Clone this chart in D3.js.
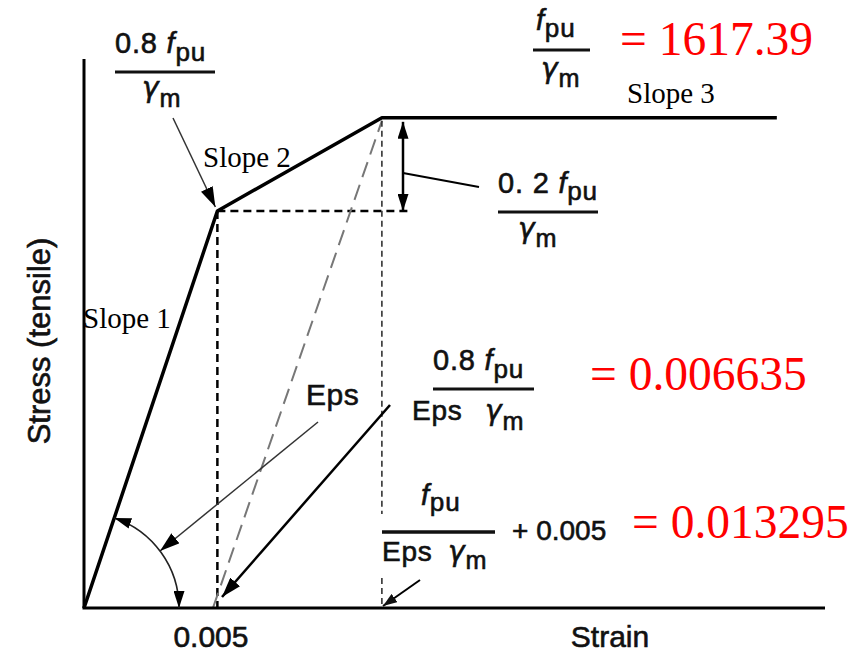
<!DOCTYPE html>
<html>
<head>
<meta charset="utf-8">
<title>Prestressing steel stress-strain</title>
<script src="https://d3js.org/d3.v7.min.js"></script>
<style>
  body { margin: 0; background: #fff; }
  .sans { font-family: "Liberation Sans", Arial, Helvetica, sans-serif; fill: #111; stroke: #111; stroke-width: 0.6px; }
  .greek { font-family: "DejaVu Sans", sans-serif; }
  .serif { font-family: "Liberation Serif", "Times New Roman", serif; }
</style>
</head>
<body>
<div id="chart"></div>
<script>
// schematic strain positions (not to scale) and stress in units of fpu/γm
const curveStrain = [0, 0.18, 0.402, 0.935];
const curveStress = [0, 0.81, 1, 1];
const offsetStrain = 0.174;      // where the "0.005" offset line starts
const axisStrainMax = 1.0;
const axisStressMax = 1.12;
const tickLabels = ["0.005"];
const slopeLabels = ["Slope 1", "Slope 2", "Slope 3"];
const valueLabels = ["= 1617.39", "= 0.006635", "= 0.013295"];

const w = 857, h = 655;

const svg = d3.select('#chart')
    .append('svg')
    .attr('width', w)
    .attr('height', h)

const x = d3.scaleLinear().domain([0, axisStrainMax]).range([84, 825])
const y = d3.scaleLinear().domain([0, axisStressMax]).range([608, 59])

const defs = svg.append('defs')
function arrowMarker(id, len, wid, color) {
    defs.append('marker')
        .attr('id', id)
        .attr('markerUnits', 'userSpaceOnUse')
        .attr('viewBox', '0 0 ' + len + ' ' + wid)
        .attr('refX', len)
        .attr('refY', wid / 2)
        .attr('markerWidth', len)
        .attr('markerHeight', wid)
        .attr('orient', 'auto-start-reverse')
        .append('path')
        .attr('d', 'M0,0 L' + len + ',' + (wid / 2) + ' L0,' + wid + ' Z')
        .attr('fill', color)
}
arrowMarker('arrBig', 20, 13, '#000')
arrowMarker('arrMid', 17, 11, '#000')
arrowMarker('arrSmall', 14, 10, '#111')

// guide lines
const knee = [curveStrain[1], curveStress[1]]
const corner = [curveStrain[2], curveStress[2]]

svg.append('line')   // horizontal dashed from knee
    .attr('x1', x(knee[0])).attr('y1', y(knee[1]))
    .attr('x2', 410).attr('y2', y(knee[1]))
    .attr('stroke', '#000').attr('stroke-width', 2.5)
    .attr('stroke-dasharray', '8,5')

svg.append('line')   // vertical dashed from knee
    .attr('x1', x(knee[0])).attr('y1', y(knee[1]))
    .attr('x2', x(knee[0])).attr('y2', y(0))
    .attr('stroke', '#000').attr('stroke-width', 2.5)
    .attr('stroke-dasharray', '8,5')

svg.append('line')   // offset line (gray long dash)
    .attr('x1', x(offsetStrain)).attr('y1', y(0))
    .attr('x2', x(corner[0])).attr('y2', y(corner[1]) + 3)
    .attr('stroke', '#777').attr('stroke-width', 2)
    .attr('stroke-dasharray', '16,8')

svg.append('line')   // thin dashed vertical at top corner
    .attr('x1', x(corner[0])).attr('y1', y(corner[1]) + 3)
    .attr('x2', x(corner[0])).attr('y2', 514)
    .attr('stroke', '#333').attr('stroke-width', 1.6)
    .attr('stroke-dasharray', '6,4')
svg.append('line')
    .attr('x1', x(corner[0])).attr('y1', 578)
    .attr('x2', x(corner[0])).attr('y2', y(0))
    .attr('stroke', '#333').attr('stroke-width', 1.6)
    .attr('stroke-dasharray', '6,4')

// axes
svg.append('line')
    .attr('x1', x(0)).attr('y1', y(0))
    .attr('x2', x(0)).attr('y2', y(axisStressMax))
    .attr('stroke', '#000').attr('stroke-width', 3)
svg.append('line')
    .attr('x1', x(0) - 1.5).attr('y1', y(0))
    .attr('x2', x(axisStrainMax)).attr('y2', y(0))
    .attr('stroke', '#000').attr('stroke-width', 3)

// the stress-strain curve
const curve = d3.line()
    .x((d, i) => x(curveStrain[i]))
    .y((d, i) => y(curveStress[i]))
svg.append('path')
    .attr('d', curve(curveStrain))
    .attr('fill', 'none')
    .attr('stroke', '#000')
    .attr('stroke-width', 3.5)
    .attr('stroke-linejoin', 'round')

// angle arc for Eps with arrows on both ends
const ox = x(0), oy = y(0), r = 95
const ang = Math.atan2(y(knee[1]) - oy, x(knee[0]) - ox)
svg.append('path')
    .attr('d', 'M' + (ox + r * Math.cos(ang)) + ',' + (oy + r * Math.sin(ang)) +
        ' A' + r + ',' + r + ' 0 0 1 ' + (ox + r) + ',' + oy)
    .attr('fill', 'none').attr('stroke', '#222').attr('stroke-width', 1.6)
    .attr('marker-start', 'url(#arrMid)')
    .attr('marker-end', 'url(#arrMid)')

// pointer arrows
function arrow(x1, y1, x2, y2, sw, color, marker) {
    svg.append('line')
        .attr('x1', x1).attr('y1', y1).attr('x2', x2).attr('y2', y2)
        .attr('stroke', color).attr('stroke-width', sw)
        .attr('marker-end', 'url(#' + marker + ')')
}
arrow(173, 118, x(knee[0]) - 2, y(knee[1]) - 4, 1.5, '#333', 'arrBig')
arrow(318, 422, 160, 551, 1.5, '#333', 'arrBig')
arrow(390, 405, 222, 597, 2.5, '#000', 'arrBig')
arrow(420, 580, 383, 606, 2, '#000', 'arrSmall')

// double arrow for 0.2 fpu/γm
svg.append('line')
    .attr('x1', 403).attr('y1', y(corner[1]) + 4)
    .attr('x2', 403).attr('y2', y(knee[1]))
    .attr('stroke', '#000').attr('stroke-width', 2.5)
    .attr('marker-start', 'url(#arrMid)')
    .attr('marker-end', 'url(#arrMid)')
svg.append('line')
    .attr('x1', 403).attr('y1', 173).attr('x2', 479).attr('y2', 187)
    .attr('stroke', '#000').attr('stroke-width', 2)

// fraction bars
function bar(x1, x2, yy, sw) {
    svg.append('line')
        .attr('x1', x1).attr('x2', x2).attr('y1', yy).attr('y2', yy)
        .attr('stroke', '#111').attr('stroke-width', sw || 3)
}

// parts = [text, style, dy, x]; style 'i' italic, 's' subscript, 'g' greek
function mtext(px, py, parts, size) {
    const t = svg.append('text')
        .attr('class', 'sans')
        .attr('x', px).attr('y', py)
        .attr('font-size', size)
        .attr('letter-spacing', 0.8)
    parts.forEach(p => {
        const s = t.append('tspan').text(p[0])
        if (p[1] === 'i') s.attr('font-style', 'italic')
        if (p[1] === 'g') s.attr('font-style', 'italic').attr('class', 'greek')
        if (p[1] === 's') s.attr('dy', p[2]).attr('font-size', size * 0.9)
        if (p[3] !== undefined) s.attr('x', p[3])
    })
    return t
}

// top-left 0.8 fpu / γm
mtext(115, 53, [['0.8 '], ['f', 'i'], ['pu', 's', 8]], 29)
bar(115, 215, 72)
mtext(142, 97, [['γ', 'g'], ['m', 's', 10]], 28)

// top-right fpu / γm
mtext(536, 30, [['f', 'i'], ['pu', 's', 7]], 29)
bar(533, 590, 50)
mtext(541, 78, [['γ', 'g'], ['m', 's', 9]], 28)

// 0.2 fpu / γm
mtext(498, 193, [['0. 2 '], ['f', 'i'], ['pu', 's', 7]], 29)
bar(498, 598, 212)
mtext(518, 238, [['γ', 'g'], ['m', 's', 9]], 28)

// 0.8 fpu / (Eps γm)
mtext(433, 370, [['0.8 '], ['f', 'i'], ['pu', 's', 8]], 29)
bar(433, 534, 389)
mtext(412, 420, [['Eps'], ['γ', 'g', 0, 485], ['m', 's', 10]], 28)

// fpu / (Eps γm) + 0.005
mtext(421, 505, [['f', 'i'], ['pu', 's', 6]], 29)
bar(382, 495, 532, 3.5)
mtext(382, 561, [['Eps'], ['γ', 'g', 0, 448], ['m', 's', 8]], 28)
svg.append('text').attr('class', 'sans')
    .attr('x', 512).attr('y', 540).attr('font-size', 28)
    .text('+ ' + tickLabels[0])

// Eps label
svg.append('text').attr('class', 'sans')
    .attr('x', 306).attr('y', 405).attr('font-size', 30)
    .attr('letter-spacing', 0.5)
    .text('Eps')

// slope labels (serif)
const slopePos = [[83, 328], [203, 167], [627, 103]]
svg.selectAll('.slope')
    .data(slopeLabels)
    .enter()
    .append('text')
    .attr('class', 'serif slope')
    .attr('x', (d, i) => slopePos[i][0])
    .attr('y', (d, i) => slopePos[i][1])
    .attr('font-size', 29)
    .attr('fill', '#000')
    .text(d => d)

// red values
const valuePos = [[620, 55], [590, 390], [632, 538]]
svg.selectAll('.val')
    .data(valueLabels)
    .enter()
    .append('text')
    .attr('class', 'serif val')
    .attr('x', (d, i) => valuePos[i][0])
    .attr('y', (d, i) => valuePos[i][1])
    .attr('font-size', 47.5)
    .attr('fill', '#ff0000')
    .text(d => d)

// axis labels
svg.append('text').attr('class', 'sans')
    .attr('x', x(offsetStrain) - 2).attr('y', 647)
    .attr('text-anchor', 'middle').attr('font-size', 30)
    .text(tickLabels[0])
svg.append('text').attr('class', 'sans')
    .attr('x', 610).attr('y', 647)
    .attr('text-anchor', 'middle').attr('font-size', 30)
    .text('Strain')
svg.append('text').attr('class', 'sans')
    .attr('transform', 'translate(50,341) rotate(-90)')
    .attr('text-anchor', 'middle').attr('font-size', 31)
    .text('Stress (tensile)')
</script>
</body>
</html>
